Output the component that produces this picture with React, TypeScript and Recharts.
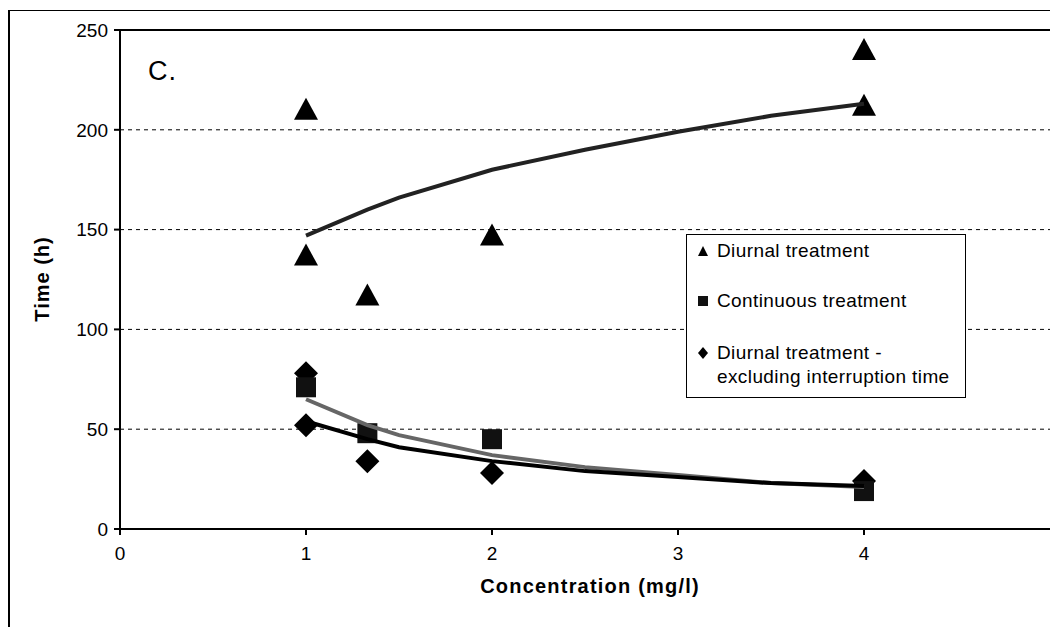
import { ReferenceLine, Scatter, ScatterChart, XAxis, YAxis } from "recharts";

// measured points (concentration mg/l, time h)
const diurnalX = [1, 1, 1.33, 2, 4, 4];
const diurnalY = [210, 137, 117, 147, 240, 212];
const continuousX = [1, 1.33, 2, 4];
const continuousY = [71, 48, 45, 19];
const excludingX = [1, 1, 1.33, 2, 4];
const excludingY = [78, 52, 34, 28, 24];

// trend lines
const trendX = [1, 1.33, 1.5, 2, 2.5, 3, 3.5, 4];
const diurnalTrend = [147, 160, 166, 180, 190, 199, 207, 213];
const continuousTrend = [65, 52, 47, 37, 31, 27, 23, 21];
const excludingTrend = [54, 45, 41, 34, 29, 26, 23, 21.5];

const xTicks = [0, 1, 2, 3, 4];
const yTicks = [0, 50, 100, 150, 200, 250];
const gridLevels = [50, 100, 150, 200];

const FONT = '"Liberation Sans", Arial, sans-serif';

const zip = (xs: number[], ys: number[]) => xs.map((x, i) => ({ x, y: ys[i] }));

const Triangle = ({ cx, cy }: any) => (
  <path d={`M${cx},${cy - 12} L${cx + 12},${cy + 10} L${cx - 12},${cy + 10} Z`} fill="#000" />
);
const Square = ({ cx, cy }: any) => (
  <rect x={cx - 10} y={cy - 10} width={20} height={20} fill="#111" />
);
const Diamond = ({ cx, cy }: any) => (
  <path d={`M${cx},${cy - 12} L${cx + 12},${cy} L${cx},${cy + 12} L${cx - 12},${cy} Z`} fill="#000" />
);
const NoDot = () => <g />;

function LegendBox() {
  const row = { display: "flex", alignItems: "center", gap: 8 } as const;
  return (
    <div
      style={{
        position: "absolute",
        left: 686,
        top: 234,
        width: 280,
        height: 164,
        boxSizing: "border-box",
        border: "1px solid #000",
        background: "#fff",
        fontFamily: FONT,
        fontSize: 19,
        letterSpacing: 0.4,
        padding: "4px 0 0 10px",
        lineHeight: "24px",
      }}
    >
      <div style={row}>
        <svg width={12} height={12}>
          <path d="M6,1 L11,11 L1,11 Z" fill="#000" />
        </svg>
        <span>Diurnal treatment</span>
      </div>
      <div style={{ ...row, marginTop: 26 }}>
        <svg width={12} height={12}>
          <rect x={1} y={1} width={10} height={10} fill="#111" />
        </svg>
        <span>Continuous treatment</span>
      </div>
      <div style={{ ...row, marginTop: 28, alignItems: "flex-start" }}>
        <svg width={12} height={24}>
          <path d="M6,6 L11,12 L6,18 L1,12 Z" fill="#000" />
        </svg>
        <span>
          Diurnal treatment -<br />excluding interruption time
        </span>
      </div>
    </div>
  );
}

export default function App() {
  return (
    <div
      style={{
        position: "absolute",
        left: 0,
        top: 0,
        width: 1050,
        height: 627,
        background: "#fff",
        overflow: "hidden",
        fontFamily: FONT,
      }}
    >
      <div
        style={{
          position: "absolute",
          left: 8,
          top: 10,
          width: 1060,
          height: 640,
          borderLeft: "2px solid #000",
          borderTop: "1px solid #000",
        }}
      />
      <ScatterChart
        width={1050}
        height={627}
        margin={{ top: 30, right: 0, bottom: 0, left: 0 }}
        style={{ position: "absolute", left: 0, top: 0 }}
      >
        {gridLevels.map((v) => (
          <ReferenceLine key={v} y={v} stroke="#000" strokeDasharray="4 4" strokeWidth={1} />
        ))}
        <ReferenceLine y={250} stroke="#000" strokeWidth={2} />
        <XAxis
          type="number"
          dataKey="x"
          domain={[0, 5]}
          ticks={xTicks}
          height={98}
          stroke="#000"
          strokeWidth={2}
          tickSize={6}
          tickMargin={12}
          tick={{ fill: "#000", fontSize: 19, fontFamily: FONT }}
          allowDataOverflow
        />
        <YAxis
          type="number"
          dataKey="y"
          domain={[0, 250]}
          ticks={yTicks}
          width={120}
          stroke="#000"
          strokeWidth={2}
          tickSize={6}
          tickMargin={6}
          tick={{ fill: "#000", fontSize: 19, fontFamily: FONT }}
        />
        <Scatter
          data={zip(diurnalX, diurnalY)}
          shape={Triangle}
          isAnimationActive={false}
        />
        <Scatter
          data={zip(excludingX, excludingY)}
          shape={Diamond}
          isAnimationActive={false}
        />
        <Scatter
          data={zip(continuousX, continuousY)}
          shape={Square}
          isAnimationActive={false}
        />
        <Scatter
          data={zip(trendX, diurnalTrend)}
          line={{ stroke: "#222", strokeWidth: 4 }}
          lineType="joint"
          shape={NoDot}
          isAnimationActive={false}
        />
        <Scatter
          data={zip(trendX, continuousTrend)}
          line={{ stroke: "#666", strokeWidth: 4 }}
          lineType="joint"
          shape={NoDot}
          isAnimationActive={false}
        />
        <Scatter
          data={zip(trendX, excludingTrend)}
          line={{ stroke: "#000", strokeWidth: 4 }}
          lineType="joint"
          shape={NoDot}
          isAnimationActive={false}
        />
      </ScatterChart>
      <div
        style={{
          position: "absolute",
          left: 148,
          top: 56,
          fontSize: 27,
          letterSpacing: 1,
        }}
      >
        C.
      </div>
      <div
        style={{
          position: "absolute",
          left: 42,
          top: 279,
          transform: "translate(-50%, -50%) rotate(-90deg)",
          fontSize: 20,
          fontWeight: "bold",
          letterSpacing: 1,
          whiteSpace: "nowrap",
        }}
      >
        Time (h)
      </div>
      <div
        style={{
          position: "absolute",
          left: 590,
          top: 586,
          transform: "translate(-50%, -50%)",
          fontSize: 20,
          fontWeight: "bold",
          letterSpacing: 1.2,
          whiteSpace: "nowrap",
        }}
      >
        Concentration (mg/l)
      </div>
      <LegendBox />
    </div>
  );
}
